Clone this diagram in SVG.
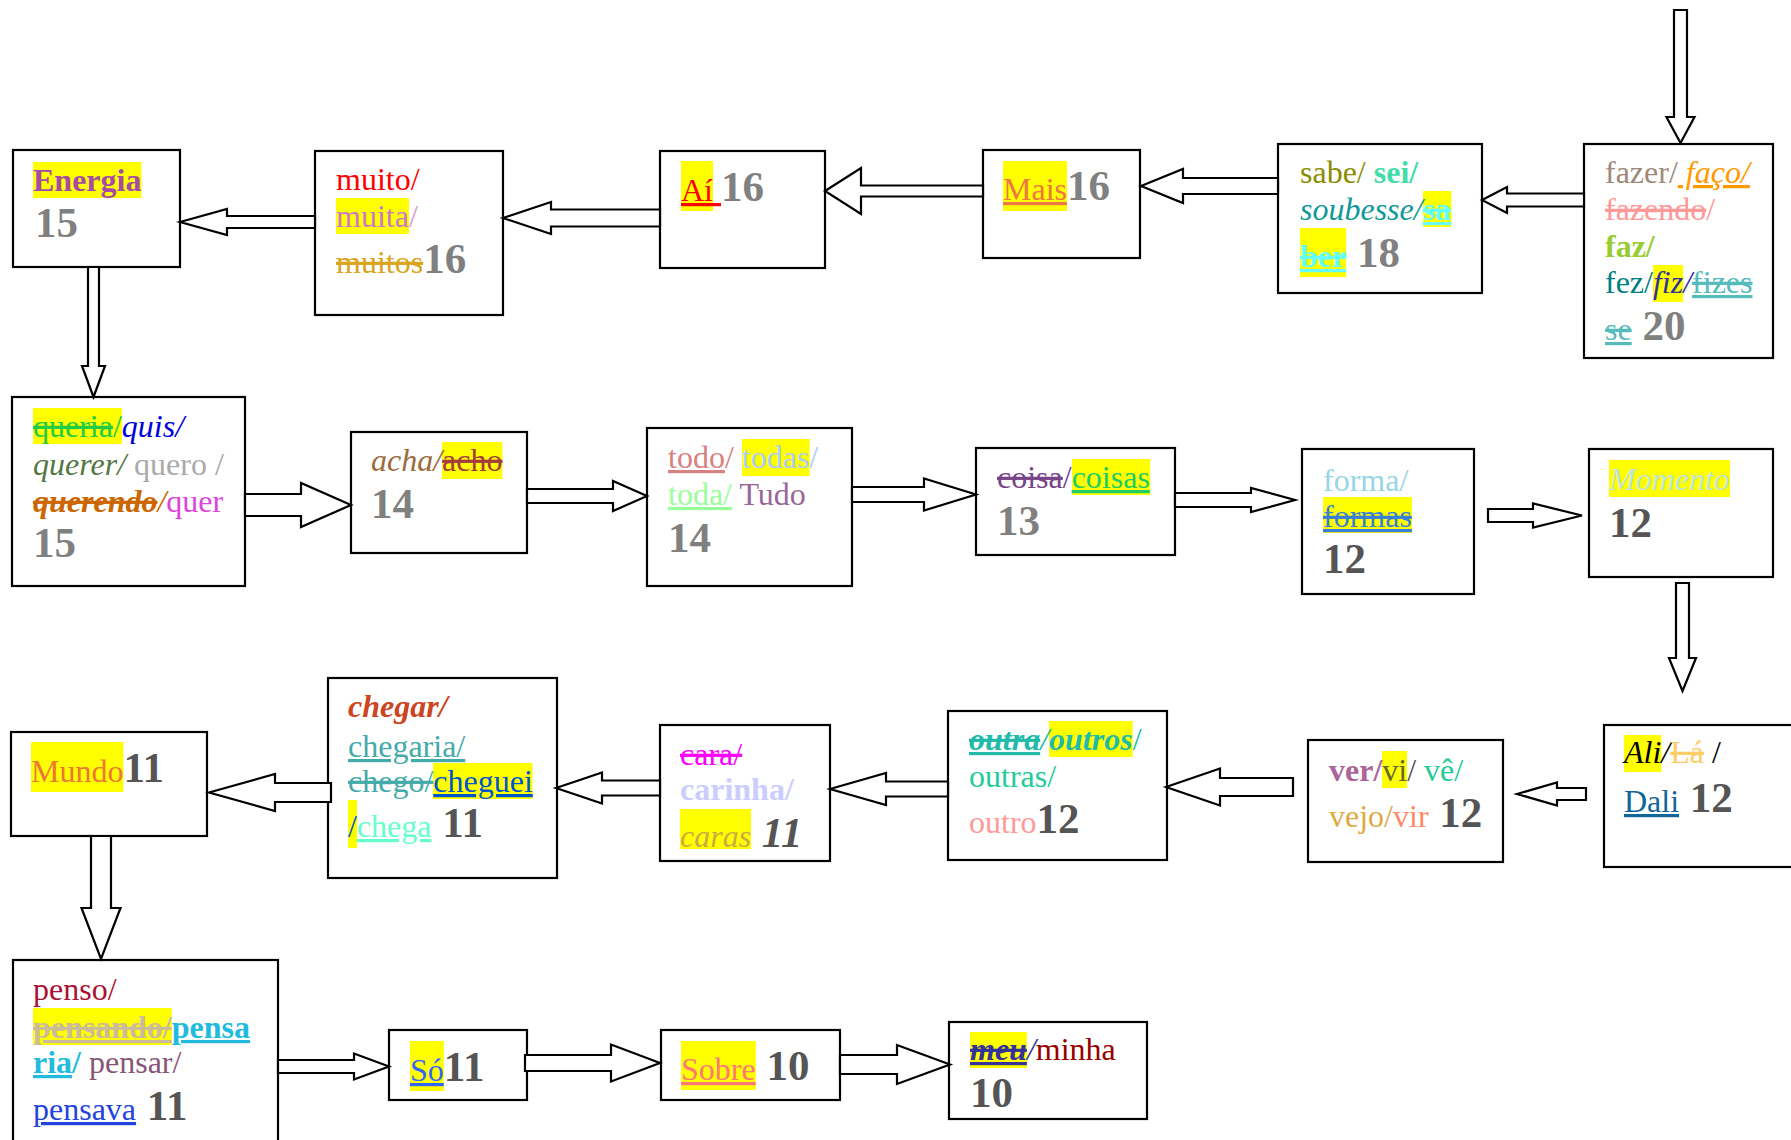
<svg xmlns="http://www.w3.org/2000/svg" width="1791" height="1140" viewBox="0 0 1791 1140">
<style>
.box{fill:#fff;stroke:#000;stroke-width:2.2}
.arr{fill:#fff;stroke:#000;stroke-width:2.2;stroke-linejoin:miter}
.hl{fill:#ffff00}
text{font-family:"Liberation Serif","Times New Roman",serif;font-size:32px}
.n{font-weight:bold;font-size:43px}
.g1{fill:#808080}
.g2{fill:#555555}
.b{font-weight:bold}
.i{font-style:italic}
.u{text-decoration:underline}
.s{text-decoration:line-through}
.us{text-decoration:underline line-through}
</style>
<rect width="1791" height="1140" fill="#fff"/>
<g id="n1"><rect class="box" x="13" y="150" width="167" height="117"/><rect class="hl" x="33" y="162" width="108.4" height="36"/><text x="33" y="191" class="b" fill="#a64ca6">Energia</text><text x="35" y="237" class="n g1">15</text></g>
<g id="n2"><rect class="box" x="315" y="151" width="188" height="164"/><text x="336" y="190" fill="#ff0000">muito/</text><rect class="hl" x="336" y="198" width="73" height="36"/><text x="336" y="227"><tspan fill="#cc77cc">muita</tspan><tspan fill="#dd99dd">/</tspan></text><text x="336" y="273"><tspan class="s" fill="#daa520">muitos</tspan><tspan class="n g1">16</tspan></text></g>
<g id="n3"><rect class="box" x="660" y="151" width="165" height="117"/><rect class="hl" x="681" y="161" width="32" height="50"/><text x="681" y="201"><tspan class="u" fill="#ff0000">Aí </tspan><tspan class="n g1">16</tspan></text></g>
<g id="n4"><rect class="box" x="983" y="150" width="157" height="108"/><rect class="hl" x="1003" y="161" width="64" height="50"/><text x="1003" y="200"><tspan class="u" fill="#ee7744">Mais</tspan><tspan class="n g1">16</tspan></text></g>
<g id="n5"><rect class="box" x="1278" y="144" width="204" height="149"/><text x="1300" y="183"><tspan fill="#8b8b00">sabe/ </tspan><tspan class="b" fill="#44ddaa">sei/</tspan></text><rect class="hl" x="1423" y="191" width="28.4" height="36"/><text x="1300" y="220"><tspan class="i" fill="#119999">soubesse/</tspan><tspan class="b us" fill="#66ffff">sa</tspan></text><rect class="hl" x="1300" y="228" width="46.2" height="49"/><text x="1300" y="267"><tspan class="b us" fill="#66ffff">ber</tspan><tspan class="n g1"> 18</tspan></text></g>
<g id="n6"><rect class="box" x="1584" y="144" width="189" height="214"/><text x="1605" y="183"><tspan fill="#a08878">fazer/</tspan><tspan class="i u" fill="#ff9900"> faço/</tspan></text><text x="1605" y="220"><tspan class="s" fill="#ff9999">fazendo</tspan><tspan fill="#ff9999">/</tspan></text><text x="1605" y="257" class="b" fill="#99cc33">faz/</text><rect class="hl" x="1653" y="265" width="30.2" height="37"/><text x="1605" y="293"><tspan fill="#008080">fez/</tspan><tspan class="i" fill="#333399">fiz/</tspan><tspan class="us" fill="#55bbbb">fizes</tspan></text><text x="1605" y="340"><tspan class="us" fill="#55bbbb">se</tspan><tspan class="n g1"> 20</tspan></text></g>
<g id="n7"><rect class="box" x="12" y="397" width="233" height="189"/><rect class="hl" x="33" y="408" width="88.9" height="36"/><text x="33" y="437"><tspan class="s" fill="#22cc44">queria</tspan><tspan fill="#22cc44">/</tspan><tspan class="i" fill="#0000dd">quis/</tspan></text><text x="33" y="475"><tspan class="i" fill="#557744">querer/</tspan><tspan fill="#aaaaaa"> quero /</tspan></text><text x="33" y="512"><tspan class="b i s" fill="#cc6600">querendo</tspan><tspan class="i" fill="#cc6600">/</tspan><tspan fill="#dd44dd">quer</tspan></text><text x="33" y="557" class="n g1">15</text></g>
<g id="n8"><rect class="box" x="351" y="432" width="176" height="121"/><rect class="hl" x="442" y="442" width="60.4" height="37"/><text x="371" y="471"><tspan class="i" fill="#9c6b3c">acha/</tspan><tspan class="s" fill="#a63c3c">acho</tspan></text><text x="371" y="518" class="n g1">14</text></g>
<g id="n9"><rect class="box" x="647" y="428" width="205" height="158"/><rect class="hl" x="742" y="439" width="67.6" height="37"/><text x="668" y="468"><tspan class="u" fill="#d98080">todo</tspan><tspan fill="#d98080">/ </tspan><tspan fill="#aaccff">todas/</tspan></text><text x="668" y="505"><tspan class="u" fill="#99ff99">toda/</tspan><tspan fill="#996699"> Tudo</tspan></text><text x="668" y="552" class="n g1">14</text></g>
<g id="n10"><rect class="box" x="976" y="448" width="199" height="107"/><rect class="hl" x="1072" y="459" width="78.2" height="36"/><text x="997" y="488"><tspan class="s" fill="#774488">coisa</tspan><tspan fill="#774488">/</tspan><tspan class="u" fill="#22cc66">coisas</tspan></text><text x="997" y="535" class="n g1">13</text></g>
<g id="n11"><rect class="box" x="1302" y="449" width="172" height="145"/><text x="1323" y="491" fill="#99d5e5">forma/</text><rect class="hl" x="1323" y="497" width="88.9" height="36"/><text x="1323" y="527" class="us" fill="#3a7fd5">formas</text><text x="1323" y="573" class="n g2">12</text></g>
<g id="n12"><rect class="box" x="1589" y="449" width="184" height="128"/><rect class="hl" x="1609" y="460" width="121" height="37"/><text x="1609" y="490" class="i" fill="#bde5dd">Momento</text><text x="1609" y="537" class="n g2">12</text></g>
<g id="n13"><rect class="box" x="11" y="732" width="196" height="104"/><rect class="hl" x="31" y="742" width="92.4" height="50"/><text x="31" y="782"><tspan fill="#ee7733">Mundo</tspan><tspan class="n g2">11</tspan></text></g>
<g id="n14"><rect class="box" x="328" y="678" width="229" height="200"/><text x="348" y="717" class="b i" fill="#cc4422">chegar/</text><text x="348" y="757" class="u" fill="#44aaaa">chegaria/</text><rect class="hl" x="433" y="763" width="99.5" height="36"/><text x="348" y="792"><tspan class="s" fill="#44aaaa">chego/</tspan><tspan class="u" fill="#0055cc">cheguei</tspan></text><rect class="hl" x="348" y="800" width="9" height="48"/><text x="348" y="837"><tspan fill="#0055cc">/</tspan><tspan class="u" fill="#66ffcc">chega</tspan><tspan class="n g2"> 11</tspan></text></g>
<g id="n15"><rect class="box" x="660" y="725" width="170" height="136"/><text x="680" y="765" class="s" fill="#ff00ff">cara/</text><text x="680" y="800" class="b" fill="#ccccff">carinha/</text><rect class="hl" x="680" y="809" width="71" height="40"/><text x="680" y="847"><tspan class="i" fill="#ccaa44">caras</tspan><tspan class="n g2 i"> 11</tspan></text></g>
<g id="n16"><rect class="box" x="948" y="711" width="219" height="149"/><rect class="hl" x="1049" y="721" width="83.6" height="36"/><text x="969" y="750"><tspan class="b i us" fill="#22bbaa">outra</tspan><tspan class="i" fill="#22bbaa">/</tspan><tspan class="b i" fill="#22bbaa">outros</tspan><tspan fill="#22bbaa">/</tspan></text><text x="969" y="787" fill="#22cc99">outras/</text><text x="969" y="833"><tspan fill="#ff9999">outro</tspan><tspan class="n g2">12</tspan></text></g>
<g id="n17"><rect class="box" x="1308" y="740" width="195" height="122"/><rect class="hl" x="1382" y="751" width="25" height="37"/><text x="1329" y="781"><tspan class="b" fill="#aa6699">ver/</tspan><tspan fill="#666633">vi</tspan><tspan fill="#555555">/</tspan><tspan fill="#22cc99"> vê/</tspan></text><text x="1329" y="827"><tspan fill="#ddaa44">vejo/</tspan><tspan fill="#ff8866">vir</tspan><tspan class="n g2"> 12</tspan></text></g>
<g id="n18"><rect class="box" x="1604" y="725" width="200" height="142"/><rect class="hl" x="1624" y="735" width="37.3" height="37"/><text x="1624" y="763"><tspan class="i" fill="#000">Ali/</tspan><tspan class="s" fill="#ffcc66">Lá</tspan><tspan fill="#000"> /</tspan></text><text x="1624" y="812"><tspan class="u" fill="#116699">Dali</tspan><tspan class="n g2"> 12</tspan></text></g>
<g id="n19"><rect class="box" x="13" y="960" width="265" height="200"/><text x="33" y="1000" fill="#aa1133">penso/</text><rect class="hl" x="33" y="1008" width="138.7" height="37"/><text x="33" y="1038"><tspan class="b us" fill="#ccbb99">pensando/</tspan><tspan class="b u" fill="#22bbdd">pensa</tspan></text><text x="33" y="1073"><tspan class="b u" fill="#22bbdd">ria</tspan><tspan class="b" fill="#22bbdd">/</tspan><tspan fill="#885577"> pensar/</tspan></text><text x="33" y="1120"><tspan class="u" fill="#2244dd">pensava</tspan><tspan class="n g2"> 11</tspan></text></g>
<g id="n20"><rect class="box" x="389" y="1030" width="138" height="70"/><rect class="hl" x="410" y="1041" width="33.8" height="50"/><text x="410" y="1081"><tspan class="u" fill="#3366ff">Só</tspan><tspan class="n g2">11</tspan></text></g>
<g id="n21"><rect class="box" x="661" y="1030" width="179" height="70"/><rect class="hl" x="681" y="1041" width="74.7" height="49"/><text x="681" y="1080"><tspan class="u" fill="#ff7777">Sobre</tspan><tspan class="n g2"> 10</tspan></text></g>
<g id="n22"><rect class="box" x="949" y="1022" width="198" height="97"/><rect class="hl" x="970" y="1032" width="56.9" height="36"/><text x="970" y="1060"><tspan class="b i us" fill="#333399">meu</tspan><tspan class="i" fill="#333399">/</tspan><tspan fill="#990000">minha</tspan></text><text x="970" y="1107" class="n g2">10</text></g>
<g id="connectors">
<polygon class="arr" points="180,222 227,209 227,216 315,216 315,228 227,228 227,235"/>
<polygon class="arr" points="503,218 551,202 551,209.5 660,209.5 660,226.5 551,226.5 551,234"/>
<polygon class="arr" points="825,191 861,168 861,185.5 983,185.5 983,196.5 861,196.5 861,214"/>
<polygon class="arr" points="1141,186 1183,169 1183,178 1278,178 1278,194 1183,194 1183,203"/>
<polygon class="arr" points="1482,200 1507,187 1507,193.5 1584,193.5 1584,206.5 1507,206.5 1507,213"/>
<polygon class="arr" points="1674,10 1687,10 1687,117 1694.5,117 1680.5,143 1666.5,117 1674,117"/>
<polygon class="arr" points="88,267 99,267 99,366 105,366 93.5,397 82,366 88,366"/>
<polygon class="arr" points="245,494 301,494 301,483 351,505 301,527 301,516 245,516"/>
<polygon class="arr" points="527,489 613,489 613,481 647,496 613,511 613,503 527,503"/>
<polygon class="arr" points="852,487 924,487 924,478.5 976,494.5 924,510.5 924,502 852,502"/>
<polygon class="arr" points="1175,493 1251,493 1251,488 1295,500 1251,512 1251,507 1175,507"/>
<polygon class="arr" points="1488,509 1533,509 1533,503.5 1582,515.5 1533,527.5 1533,522 1488,522"/>
<polygon class="arr" points="1676,583 1689,583 1689,658 1696,658 1682.5,691 1669,658 1676,658"/>
<polygon class="arr" points="1517,794 1557,782.5 1557,788 1586,788 1586,800 1557,800 1557,805.5"/>
<polygon class="arr" points="1166,787 1220,768.5 1220,778 1293,778 1293,796 1220,796 1220,805.5"/>
<polygon class="arr" points="830,789 886,773 886,781.5 948,781.5 948,796.5 886,796.5 886,805"/>
<polygon class="arr" points="556,788 602,772.5 602,780.5 660,780.5 660,795.5 602,795.5 602,803.5"/>
<polygon class="arr" points="209,792.5 275,774 275,783 331,783 331,802 275,802 275,811"/>
<polygon class="arr" points="91,836 111,836 111,908 120.5,908 101,959 81.5,908 91,908"/>
<polygon class="arr" points="278,1060 354,1060 354,1053.5 389,1066.5 354,1079.5 354,1073 278,1073"/>
<polygon class="arr" points="525,1055 611,1055 611,1044.5 660,1063 611,1081.5 611,1071 525,1071"/>
<polygon class="arr" points="840,1055 897,1055 897,1045 950,1064.5 897,1084 897,1074 840,1074"/>
</g>
</svg>
